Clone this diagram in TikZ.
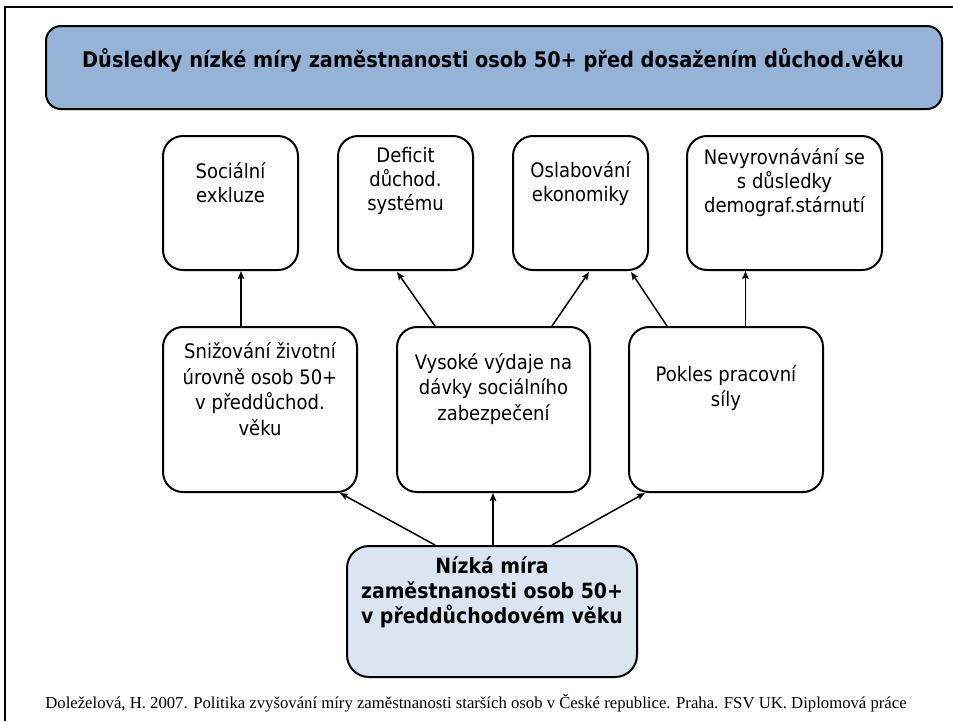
\documentclass[tikz,border=0pt]{standalone}
\usepackage{fontspec}
\setmainfont{DejaVu Sans Condensed}
\newfontfamily\reffont{Liberation Serif}
\usetikzlibrary{arrows.meta}
\definecolor{titlefill}{HTML}{95B3D7}
\definecolor{basefill}{HTML}{DBE5F1}
\begin{document}
\begin{tikzpicture}[x=1pt,y=-1pt,
  box/.style={draw=black, line width=2pt, rounded corners=20pt, inner sep=0pt, fill=white},
  rowone/.style={box, minimum height=134pt},
  rowtwo/.style={box, minimum height=165pt},
  txt/.style={inner sep=0pt, align=center, font=\fontsize{20}{24}\selectfont},
  txttwo/.style={inner sep=0pt, align=center, font=\fontsize{20}{25.5}\selectfont},
  arr/.style={line width=1.5pt, -{Stealth[length=8pt,width=6.5pt,inset=1.5pt]}}
]
\useasboundingbox (0,0) rectangle (953,721);
% frame
\draw[line width=2.5pt] (5,721) -- (5,7) -- (953,7);
% title
\node[box, fill=titlefill, rounded corners=15pt, minimum width=896pt, minimum height=83pt] (T) at (494,67.5) {};
\node[inner sep=0pt, font=\fontsize{21.5}{24}\selectfont\bfseries] (tT) at (493,60) {Důsledky nízké míry zaměstnanosti osob 50+ před dosažením důchod.věku};
% row one
\node[rowone, minimum width=135pt] (A) at (230.5,203) {};
\node[rowone, minimum width=135pt] (B) at (405.5,203) {};
\node[rowone, minimum width=135pt] (C) at (580.5,203) {};
\node[rowone, minimum width=195pt] (D) at (784.5,203) {};
\node[txt] (tA) at (230.5,183) {Sociální\\exkluze};
\node[txt] (tB) at (405.5,181) {Deficit\\důchod.\\systému};
\node[txt] (tC) at (580.5,184) {Oslabování\\ekonomiky};
\node[txt] (tD) at (784.5,183) {Nevyrovnávání se\\s důsledky\\demograf.stárnutí};
% row two
\node[rowtwo, minimum width=194pt] (E) at (260,409.5) {};
\node[rowtwo, minimum width=193pt] (F) at (493.5,409.5) {};
\node[rowtwo, minimum width=194pt] (G) at (726,409.5) {};
\node[txttwo] (tE) at (260,389) {Snižování životní\\úrovně osob 50+\\v předdůchod.\\věku};
\node[txttwo] (tF) at (493.5,389) {Vysoké výdaje na\\dávky sociálního\\zabezpečení};
\node[txttwo] (tG) at (726,388) {Pokles pracovní\\síly};
% base
\node[box, fill=basefill, rounded corners=22pt, minimum width=290pt, minimum height=131pt] (H) at (492,611.5) {};
\node[inner sep=0pt, align=center, font=\fontsize{21}{25}\selectfont\bfseries] (tH) at (492,592) {Nízká míra\\zaměstnanosti osob 50+\\v předdůchodovém věku};
% arrows
\draw[arr] ([xshift=-19pt]E.north) -- ([xshift=10.5pt]A.south);
\draw[arr] ([xshift=-58.5pt]F.north) -- ([xshift=-8.5pt,yshift=-1pt]B.south);
\draw[arr] ([xshift=58.5pt]F.north) -- ([xshift=8.5pt,yshift=-1pt]C.south);
\draw[arr] ([xshift=-59pt]G.north) -- ([xshift=50.5pt,yshift=-1pt]C.south);
\draw[arr] ([xshift=19.5pt]G.north) -- ([xshift=-39pt]D.south);
\draw[arr] ([xshift=-57pt]H.north) -- ([xshift=80pt]E.south);
\draw[arr] ([xshift=1pt]H.north) -- ([xshift=-0.5pt]F.south);
\draw[arr] ([xshift=60pt]H.north) -- ([xshift=-81pt]G.south);
% citation
\node[inner sep=0pt, font=\reffont\fontsize{16.7}{18}\selectfont] (cite) at (476,703) {Doleželová, H. 2007. Politika zvyšování míry zaměstnanosti starších osob v České republice. Praha. FSV UK. Diplomová práce};
\end{tikzpicture}
\end{document}
